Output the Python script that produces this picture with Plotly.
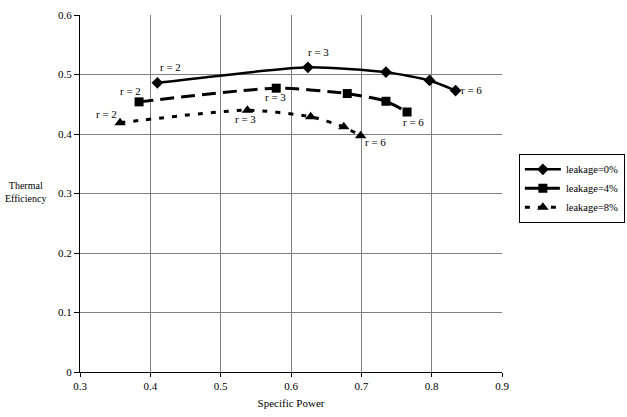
import plotly.graph_objects as go

# Data
x_0 = [0.41, 0.624, 0.735, 0.797, 0.834]
y_0 = [0.486, 0.512, 0.504, 0.490, 0.473]
x_4 = [0.384, 0.579, 0.680, 0.735, 0.765]
y_4 = [0.454, 0.477, 0.468, 0.455, 0.437]
x_8 = [0.357, 0.538, 0.628, 0.675, 0.699]
y_8 = [0.419, 0.440, 0.429, 0.412, 0.397]
series_names = ["leakage=0%", "leakage=4%", "leakage=8%"]
y_ticks = [0, 0.1, 0.2, 0.3, 0.4, 0.5, 0.6]
y_tick_text = ["0", "0.1", "0.2", "0.3", "0.4", "0.5", "0.6"]
x_ticks = [0.3, 0.4, 0.5, 0.6, 0.7, 0.8, 0.9]
x_tick_text = ["0.3", "0.4", "0.5", "0.6", "0.7", "0.8", "0.9"]

# labels: (series index, point index, text)
labels = [(0, 0, "r = 2"), (0, 1, "r = 3"), (0, 4, "r = 6"),
          (1, 0, "r = 2"), (1, 1, "r = 3"), (1, 4, "r = 6"),
          (2, 0, "r = 2"), (2, 1, "r = 3"), (2, 4, "r = 6")]
label_shift = [(13, 16), (11, 15), (16, 1),
               (-9, 11), (-1, -9), (6, -10),
               (-14, 9), (-2, -9), (15, -6)]

FONT = "Liberation Serif, Times New Roman, serif"
xs = [x_0, x_4, x_8]
ys = [y_0, y_4, y_8]
dashes = ["solid", "14px,7px", "5px,8px"]
symbols = ["diamond", "square", "triangle-up"]
msizes = [9, 9, 10]
widths = [2.5, 3, 3]

fig = go.Figure()
for i in range(3):
    fig.add_trace(go.Scatter(
        x=xs[i], y=ys[i], name=series_names[i], mode="lines+markers",
        line=dict(color="black", width=widths[i], dash=dashes[i], shape="spline", smoothing=0.6),
        marker=dict(symbol=symbols[i], size=msizes[i], color="black"),
    ))

for (s, p, t), (dx, dy) in zip(labels, label_shift):
    fig.add_annotation(x=xs[s][p], y=ys[s][p], text=t, showarrow=False,
                       xshift=dx, yshift=dy, font=dict(family=FONT, size=11, color="black"))

fig.add_annotation(xref="paper", yref="paper", x=-0.128, y=0.504, xanchor="center", yanchor="middle",
                   text="Thermal<br>Efficiency",
                   showarrow=False, font=dict(family=FONT, size=10, color="black"), align="center")

fig.update_layout(
    width=627, height=417, paper_bgcolor="white", plot_bgcolor="white",
    margin=dict(l=80, r=125, t=15, b=45, autoexpand=False),
    font=dict(family=FONT, size=11, color="black"),
    showlegend=True,
    legend=dict(x=1.04, y=0.611, xanchor="left", yanchor="top",
                bordercolor="black", borderwidth=1, bgcolor="white",
                font=dict(family=FONT, size=10.5), itemwidth=36, tracegroupgap=0),
    xaxis=dict(range=[0.3, 0.9], tickvals=x_ticks, ticktext=x_tick_text, showgrid=True,
               gridcolor="#808080", gridwidth=1,
               showline=True, linecolor="black", linewidth=1, ticks="outside", ticklen=4,
               tickcolor="black", zeroline=False, mirror=False,
               title=dict(text="Specific Power", font=dict(family=FONT, size=11), standoff=8)),
    yaxis=dict(range=[0, 0.6], tickvals=y_ticks, ticktext=y_tick_text, showgrid=True,
               gridcolor="#808080", gridwidth=1,
               showline=True, linecolor="black", linewidth=1, ticks="outside", ticklen=5,
               tickcolor="black", zeroline=False),
)

fig.write_html("out.html")
